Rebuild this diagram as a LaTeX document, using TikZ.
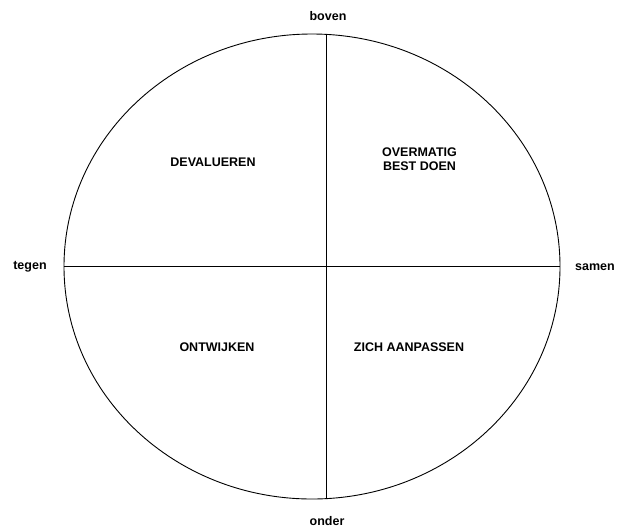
\documentclass[tikz,border=0pt]{standalone}
\usepackage{fontspec}
\setmainfont{Liberation Sans}
\usepackage{tikz}
\usetikzlibrary{shapes.geometric}

\tikzset{
    axislabel/.style={font=\fontsize{12.5}{14}\selectfont\bfseries},
    quadlabel/.style={font=\fontsize{12.5}{14}\selectfont\bfseries, align=center}
}

\begin{document}
\begin{tikzpicture}[x=1pt, y={(0pt,-1pt)}]
        % Fix the frame
        \useasboundingbox (0,0) rectangle (617,528);

        % Draw the oval
        \node[ellipse, draw, line width=0.9pt, inner sep=0pt,
              minimum width=496pt, minimum height=465pt] (oval) at (312,266.5) {};

        % Ends of the axes
        \coordinate (boventop) at (326,34);
        \coordinate (onderbottom) at (326,499);

        % Draw the axes
        \draw[line width=0.9pt] (oval.west) -- (oval.east);
        \draw[line width=0.9pt] (boventop) -- (onderbottom);

        % Label the axes
        \node[axislabel] (boven) at (328,16) {boven};
        \node[axislabel] (onder) at (327,521) {onder};
        \node[axislabel] (tegen) at (30,267) {tegen};
        \node[axislabel] (samen) at (595,267) {samen};

        % Label the quadrants
        \node[quadlabel] (devalueren) at (213,162) {DEVALUEREN};
        \node[quadlabel] (overmatig) at (419.5,159) {OVERMATIG\\BEST DOEN};
        \node[quadlabel] (ontwijken) at (217,347) {ONTWIJKEN};
        \node[quadlabel] (aanpassen) at (409,347) {ZICH AANPASSEN};

    \end{tikzpicture}
\end{document}
